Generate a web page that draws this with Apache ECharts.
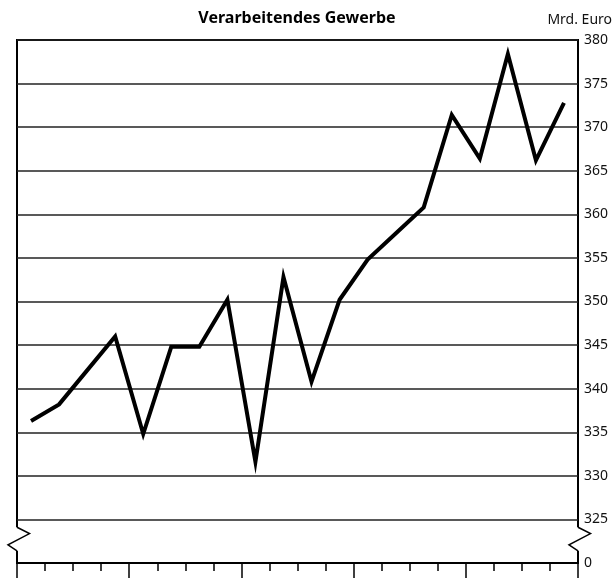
<!DOCTYPE html>
<html>
<head>
<meta charset="utf-8">
<script src="https://cdn.jsdelivr.net/npm/echarts@6/dist/echarts.min.js"></script>
<style>
  html, body { margin: 0; padding: 0; background: #fff; }
  #chart { width: 616px; height: 578px; }
</style>
</head>
<body>
<div id="chart"></div>
<script>
// quarters, 5 years x 4
const quarters = [
  "1/1", "1/2", "1/3", "1/4",
  "2/1", "2/2", "2/3", "2/4",
  "3/1", "3/2", "3/3", "3/4",
  "4/1", "4/2", "4/3", "4/4",
  "5/1", "5/2", "5/3", "5/4"
];
// Mrd. Euro
const values = [
  336.3, 338.2, 342.1, 346.0,
  334.8, 344.8, 344.8, 350.2,
  331.6, 352.8, 340.8, 350.2,
  354.8, 357.8, 360.8, 371.4,
  366.4, 378.4, 366.2, 372.8
];
const yMin = 320;   // axis bottom, drawn as "0" below the break
const yMax = 380;
const yStep = 5;
const titleText = "Verarbeitendes Gewerbe";
const unitText = "Mrd. Euro";

const font = "'Noto Sans', sans-serif";
const chart = echarts.init(document.getElementById("chart"));

const option = {
  animation: false,
  grid: {
    left: 17, right: 38, top: 40, bottom: 15,
    show: true, borderColor: "#000", borderWidth: 2
  },
  xAxis: [
    {
      type: "category",
      data: quarters,
      boundaryGap: true,
      axisLine: { show: true, lineStyle: { color: "#000", width: 2 } },
      axisTick: { show: true, interval: 0, length: 8, lineStyle: { color: "#000", width: 1.5 } },
      axisLabel: { show: false }
    },
    {
      type: "category",
      data: quarters,
      position: "bottom",
      boundaryGap: true,
      axisLine: { show: false },
      axisTick: { show: true, interval: 3, length: 16, lineStyle: { color: "#000", width: 1.5 } },
      axisLabel: { show: false }
    }
  ],
  yAxis: {
    type: "value",
    position: "right",
    min: yMin, max: yMax, interval: yStep,
    axisLine: { show: false },
    axisTick: { show: false },
    splitLine: { show: true, lineStyle: { color: "#222", width: 1.5 } },
    axisLabel: {
      margin: 6,
      color: "#111",
      fontFamily: font,
      fontSize: 14,
      formatter: v => (v === yMin ? "0" : String(v))
    }
  },
  series: [{
    type: "line",
    data: values,
    symbol: "none",
    lineStyle: { color: "#000", width: 4, join: "miter" },
    z: 5
  }]
};
chart.setOption(option);

// title, unit and axis break marks
const gl = 17, gr = 616 - 38;
const yTop = chart.convertToPixel({ yAxisIndex: 0 }, 324.1);
const yBot = chart.convertToPixel({ yAxisIndex: 0 }, 321.4);
const yA = yTop + (yBot - yTop) * 0.27;
const yB = yTop + (yBot - yTop) * 0.75;
const breakMark = (x) => [
  { type: "rect", shape: { x: x - 3, y: yTop, width: 6, height: yBot - yTop },
    style: { fill: "#fff" }, z: 10 },
  { type: "polyline", shape: { points: [[x, yTop], [x + 12.5, yA], [x - 9, yB], [x, yBot]] },
    style: { stroke: "#000", lineWidth: 1.5, fill: null }, z: 11 }
];
chart.setOption({
  graphic: [
    { type: "text", x: 297, y: 18,
      style: { text: titleText, font: "bold 16px " + font, fill: "#000",
               textAlign: "center", textVerticalAlign: "middle" } },
    { type: "text", x: 612, y: 20,
      style: { text: unitText, font: "14px " + font, fill: "#111",
               textAlign: "right", textVerticalAlign: "middle" } },
    ...breakMark(gl),
    ...breakMark(gr)
  ]
});
</script>
</body>
</html>
